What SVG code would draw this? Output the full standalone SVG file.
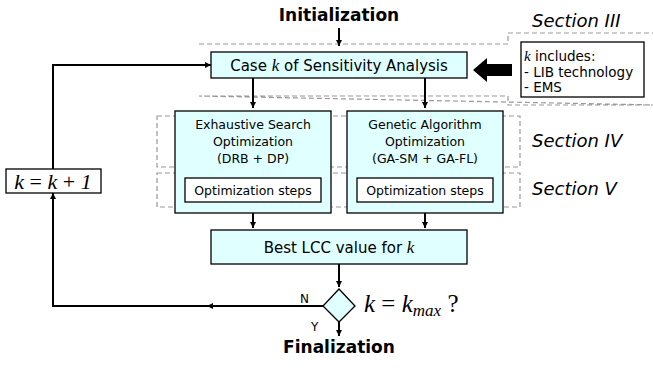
<svg xmlns="http://www.w3.org/2000/svg" width="653" height="371" viewBox="0 0 653 371">
<defs>
<marker id="ah" viewBox="0 0 10 10" refX="10" refY="5" markerWidth="6" markerHeight="6" markerUnits="userSpaceOnUse" orient="auto"><path d="M0,0 L10,5 L0,10 Z" fill="#000"/></marker>
<marker id="ahm" viewBox="0 0 10 10" refX="5" refY="5" markerWidth="6" markerHeight="6" markerUnits="userSpaceOnUse" orient="auto"><path d="M0,0 L10,5 L0,10 Z" fill="#000"/></marker>
</defs>
<style>
.t{font-family:"DejaVu Sans",Verdana,sans-serif;font-size:12.5px;fill:#000}
.t16{font-size:15px}
.t13{font-size:13.5px}
.t12{font-size:12px}
.b{font-family:"DejaVu Sans",Verdana,sans-serif;font-size:17px;font-weight:bold;fill:#000}
.s{font-family:"DejaVu Sans",Verdana,sans-serif;font-size:18px;font-style:italic;fill:#000}
.m{font-family:"Liberation Serif","Times New Roman",serif;font-style:italic}
.u{font-style:normal}
.box{fill:#e0ffff;stroke:#000;stroke-width:1.3}
.wb{fill:#fff;stroke:#000;stroke-width:1.3}
.dash{fill:none;stroke:#999;stroke-width:1.2;stroke-dasharray:5,3}
.c{fill:none;stroke:#000;stroke-width:2}
</style>
<g id="sections">
<path class="dash" d="M199,44 H508 V33 H656 M656,105 H508 V96 H199 Z"/>
<rect class="dash" x="157" y="116" width="363" height="51"/>
<rect class="dash" x="157" y="173" width="363" height="34"/>
<text class="s" x="532" y="27">Section III</text>
<text class="s" x="532" y="147">Section IV</text>
<text class="s" x="532" y="195">Section V</text>
</g>
<g id="init"><text class="b" x="339" y="21" text-anchor="middle">Initialization</text></g>
<g id="case"><rect class="box" x="211" y="52" width="256" height="26"/>
<text class="t t16" x="339" y="70.5" text-anchor="middle">Case <tspan class="m" font-size="17">k</tspan> of Sensitivity Analysis</text></g>
<g id="kinc"><rect class="wb" x="521" y="42" width="123" height="55"/>
<text class="t t13" x="524" y="61"><tspan class="m" font-size="15">k</tspan> includes:</text>
<text class="t t13" x="524" y="77">- LIB technology</text>
<text class="t t13" x="524" y="92">- EMS</text></g>
<g id="exh"><rect class="box" x="175" y="111" width="156" height="102"/>
<text class="t" x="253" y="129" text-anchor="middle">Exhaustive Search</text>
<text class="t" x="253" y="146" text-anchor="middle">Optimization</text>
<text class="t" x="253" y="163" text-anchor="middle">(DRB + DP)</text>
<rect class="wb" x="185" y="178" width="136" height="24"/>
<text class="t" x="253" y="195" text-anchor="middle">Optimization steps</text></g>
<g id="gen"><rect class="box" x="347" y="111" width="156" height="102"/>
<text class="t" x="425" y="129" text-anchor="middle">Genetic Algorithm</text>
<text class="t" x="425" y="146" text-anchor="middle">Optimization</text>
<text class="t" x="425" y="163" text-anchor="middle">(GA-SM + GA-FL)</text>
<rect class="wb" x="357" y="178" width="136" height="24"/>
<text class="t" x="425" y="195" text-anchor="middle">Optimization steps</text></g>
<g id="best"><rect class="box" x="211" y="230" width="256" height="34"/>
<text class="t t16" x="339" y="252.5" text-anchor="middle">Best LCC value for <tspan class="m" font-size="17">k</tspan></text></g>
<g id="dec"><path class="box" d="M339,289 L355,306 L339,322 L323,306 Z"/>
<text class="m" x="364" y="312" font-size="25">k <tspan class="u">=</tspan> k<tspan font-size="17" dy="4">max</tspan><tspan dy="-4" class="u"> ?</tspan></text></g>
<g id="inc"><rect class="wb" x="6" y="169" width="95" height="24"/>
<text class="m" x="53" y="189" font-size="22" text-anchor="middle">k <tspan class="u">=</tspan> k <tspan class="u">+</tspan> 1</text></g>
<g id="fin"><text class="b" x="339" y="353" text-anchor="middle">Finalization</text></g>
<g id="connectors">
<path class="c" d="M339,28 V46" marker-end="url(#ah)"/>
<path class="c" d="M253,78 V108" marker-end="url(#ah)"/>
<path class="c" d="M425,78 V108" marker-end="url(#ah)"/>
<path class="c" d="M253,213 V228" marker-end="url(#ah)"/>
<path class="c" d="M425,213 V228" marker-end="url(#ah)"/>
<path class="c" d="M339,264 V287" marker-end="url(#ah)"/>
<path class="c" d="M339,322 V336" marker-end="url(#ah)"/>
<path class="c" d="M323,306 H210" marker-end="url(#ahm)"/>
<path class="c" d="M212,306 H53 V193" marker-end="url(#ah)"/>
<path class="c" d="M53,169 V65 H211" marker-end="url(#ah)"/>
<path d="M473,70 L487,58 L487,64 L512,64 L512,76 L487,76 L487,82 Z" fill="#000"/>
<text class="t t12" x="300" y="303">N</text>
<text class="t t12" x="311" y="331">Y</text>
</g>
</svg>
